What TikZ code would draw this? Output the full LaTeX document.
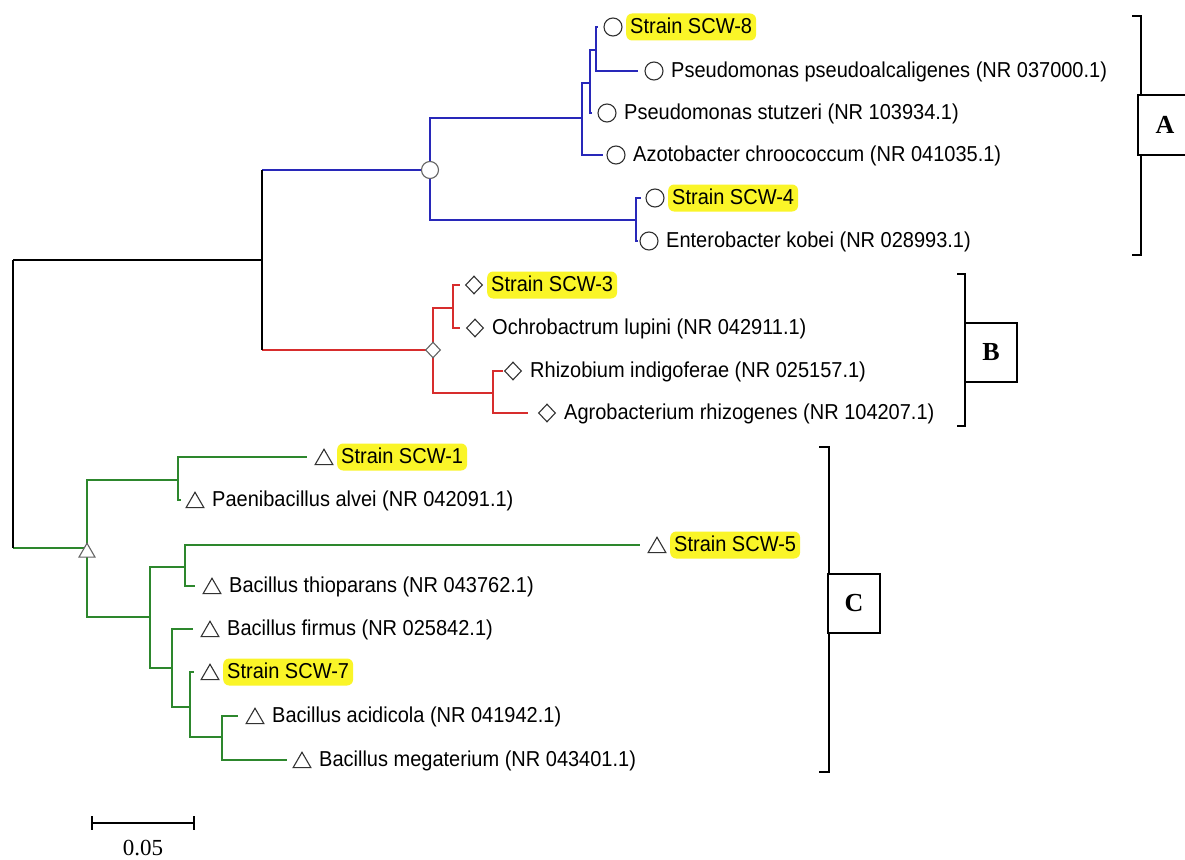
\documentclass[tikz,border=0pt]{standalone}
\usepackage{fontspec}
\setmainfont{Liberation Serif}
\newfontfamily\arialf{Liberation Sans}
\usetikzlibrary{shapes.geometric,calc}
\definecolor{tblue}{RGB}{40,40,185}
\definecolor{tred}{RGB}{215,45,45}
\definecolor{tgreen}{RGB}{45,135,45}
\definecolor{hly}{RGB}{250,245,40}
\definecolor{mk}{RGB}{50,50,50}
\definecolor{imk}{RGB}{100,100,100}
\newcommand\leafnode[7]{%
  \coordinate (#1t) at (#2,#4);
  \node[#5] (#1m) at (#3,#4) {};
  \path (#3,#4) ++(17,0) node[#6] (#1) {\scalebox{1}[1.08]{#7}};
}
\tikzset{
  br/.style={line width=1.3pt},
  cmk/.style={circle, draw=mk, line width=1.1pt, fill=white, minimum size=18pt, inner sep=0pt},
  dmk/.style={diamond, draw=mk, line width=1.1pt, fill=white, minimum width=17pt, minimum height=18pt, inner sep=0pt},
  tmk/.style={regular polygon, regular polygon sides=3, draw=mk, line width=1.1pt, fill=white, minimum size=20.5pt, inner sep=0pt, yshift=-2.5pt},
  lab/.style={anchor=west, inner xsep=0pt, inner ysep=4pt, text height=16pt, text depth=3pt, font=\arialf\fontsize{20}{24}\selectfont},
  hl/.style={lab, fill=hly, rounded corners=6pt, inner xsep=4pt, inner ysep=4pt, xshift=-4pt},
  boxl/.style={draw, fill=white, line width=1.2pt, font=\bfseries\fontsize{26}{30}\selectfont, inner sep=0pt},
  brk/.style={line width=1.3pt},
}
\begin{document}
\begin{tikzpicture}[x=1pt,y=-1pt]
\useasboundingbox[fill=white] (0,0) rectangle (1185,859);
% ---- leaves ----
\leafnode{l8}{598}{613}{27}{cmk}{hl}{Strain SCW-8}
\leafnode{lpa}{638}{654}{71}{cmk}{lab}{Pseudomonas pseudoalcaligenes (NR 037000.1)}
\leafnode{lps}{592}{607}{113}{cmk}{lab}{Pseudomonas stutzeri (NR 103934.1)}
\leafnode{laz}{603}{616}{155}{cmk}{lab}{Azotobacter chroococcum (NR 041035.1)}
\leafnode{l4}{641}{655}{198}{cmk}{hl}{Strain SCW-4}
\leafnode{len}{638}{649}{241}{cmk}{lab}{Enterobacter kobei (NR 028993.1)}
\leafnode{l3}{460}{474}{285}{dmk}{hl}{Strain SCW-3}
\leafnode{loc}{460}{475}{328}{dmk}{lab}{Ochrobactrum lupini (NR 042911.1)}
\leafnode{lrh}{503}{513}{371}{dmk}{lab}{Rhizobium indigoferae (NR 025157.1)}
\leafnode{lag}{528}{547}{413}{dmk}{lab}{Agrobacterium rhizogenes (NR 104207.1)}
\leafnode{l1}{307}{324}{457}{tmk}{hl}{Strain SCW-1}
\leafnode{lpb}{181}{195}{500}{tmk}{lab}{Paenibacillus alvei (NR 042091.1)}
\leafnode{l5}{640}{657}{545}{tmk}{hl}{Strain SCW-5}
\leafnode{lth}{195}{212}{586}{tmk}{lab}{Bacillus thioparans (NR 043762.1)}
\leafnode{lfi}{193}{210}{629}{tmk}{lab}{Bacillus firmus (NR 025842.1)}
\leafnode{l7}{194}{210}{672}{tmk}{hl}{Strain SCW-7}
\leafnode{lac}{238}{255}{716}{tmk}{lab}{Bacillus acidicola (NR 041942.1)}
\leafnode{lme}{287}{302}{760}{tmk}{lab}{Bacillus megaterium (NR 043401.1)}
% ---- internal nodes ----
\coordinate (p1) at (596,50);
\coordinate (p2) at (590,83);
\coordinate (p3) at (582,118);
\coordinate (pE) at (636,220);
\coordinate (nA) at (430,170);
\coordinate (b1) at (453,308);
\coordinate (b2) at (493,393);
\coordinate (nB) at (433,350);
\coordinate (nAB) at (262,260);
\coordinate (c1) at (178,480);
\coordinate (c2) at (185,567);
\coordinate (c3) at (222,737);
\coordinate (c4) at (190,707);
\coordinate (c5) at (172,668);
\coordinate (c6) at (150,617);
\coordinate (nC) at (87,548);
\coordinate (root) at (13,404);
% ---- blue clade ----
\begin{scope}[br, tblue]
\draw (p1) |- (l8t);
\draw (p1) |- (lpat);
\draw (p2) |- (p1);
\draw (p2) |- (lpst);
\draw (p3) |- (p2);
\draw (p3) |- (lazt);
\draw (pE) |- (l4t);
\draw (pE) |- (lent);
\draw (nA) |- (p3);
\draw (nA) |- (pE);
\draw (nAB |- nA) -- (nA);
\end{scope}
% ---- red clade ----
\begin{scope}[br, tred]
\draw (b1) |- (l3t);
\draw (b1) |- (loct);
\draw (b2) |- (lrht);
\draw (b2) |- (lagt);
\draw (nB) |- (b1);
\draw (nB) |- (b2);
\draw (nAB |- nB) -- (nB);
\end{scope}
% ---- green clade ----
\begin{scope}[br, tgreen]
\draw (c1) |- (l1t);
\draw (c1) |- (lpbt);
\draw (c2) |- (l5t);
\draw (c2) |- (ltht);
\draw (c3) |- (lact);
\draw (c3) |- (lmet);
\draw (c4) |- (l7t);
\draw (c4) |- (c3);
\draw (c5) |- (lfit);
\draw (c5) |- (c4);
\draw (c6) |- (c2);
\draw (c6) |- (c5);
\draw (nC) |- (c1);
\draw (nC) |- (c6);
\draw (root |- nC) -- (nC);
\end{scope}
% ---- black backbone ----
\begin{scope}[br, black]
\draw (nAB |- nA) -- (nAB |- nB);
\draw (root |- nAB) -- (nAB);
\draw (root |- nAB) -- (root |- nC);
\end{scope}
% ---- internal markers ----
\node[cmk, draw=imk, minimum size=17pt] (nAm) at (nA) {};
\node[dmk, draw=imk, minimum width=15pt, minimum height=16pt] (nBm) at (nB) {};
\node[tmk, draw=imk, minimum size=18.5pt, yshift=-2pt] (nCm) at (nC) {};
% ---- brackets ----
\draw[brk] (1132,16) -- (1141,16) -- (1141,255) -- (1132,255);
\node[boxl, minimum width=54pt, minimum height=60pt] (bA) at (1165,125) {A};
\draw[brk] (957,274) -- (965,274) -- (965,426) -- (957,426);
\node[boxl, minimum width=52pt, minimum height=59pt] (bB) at (991,352.5) {B};
\draw[brk] (819,447) -- (829,447) -- (829,772) -- (819,772);
\node[boxl, minimum width=52pt, minimum height=59pt] (bC) at (854,603.5) {C};
% ---- scale bar ----
\coordinate (s1) at (92,823);
\coordinate (s2) at (194,823);
\draw[line width=1.2pt] (s1) -- (s2);
\draw[line width=1.2pt] ([yshift=7pt]s1) -- ([yshift=-7pt]s1);
\draw[line width=1.2pt] ([yshift=7pt]s2) -- ([yshift=-7pt]s2);
\node[font=\fontsize{23}{26}\selectfont, inner sep=0pt] (sl) at (143,848) {0.05};
\end{tikzpicture}
\end{document}
